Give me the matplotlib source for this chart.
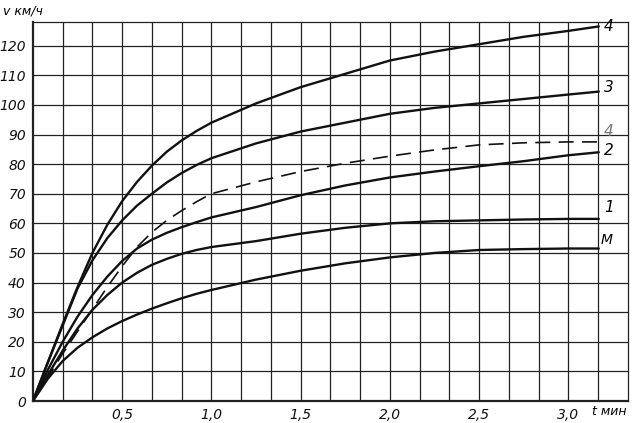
import numpy as np
import matplotlib.pyplot as plt

# time, minutes (read every 5 s up to 1 min, then every 15 s)
t = [0, 1/12, 2/12, 3/12, 4/12, 5/12, 6/12, 7/12, 8/12, 9/12, 10/12, 11/12, 1.0,
     1.25, 1.5, 1.75, 2.0, 2.25, 2.5, 2.75, 3.0, 3.17]

v_4 = [0, 13, 26, 38.5, 50, 59.5, 67.5, 74, 79.5, 84.2, 88, 91.2, 94,
       100.5, 106, 110.5, 115, 118, 120.5, 123, 125, 126.5]
v_3 = [0, 13, 25.5, 38, 47.5, 55, 61, 66, 70, 73.8, 77, 79.7, 82,
       87, 91, 94, 97, 99, 100.5, 102, 103.5, 104.5]
v_4_dash = [0, 8, 16, 23.5, 31, 38.5, 45.5, 52, 57, 61, 64.3, 67.3, 70,
            74, 77.5, 80.3, 82.7, 84.8, 86.5, 87.2, 87.5, 87.5]
v_2 = [0, 10.5, 20, 28.5, 35.8, 42, 47.3, 51.5, 54.5, 56.8, 58.7, 60.4, 62,
       65.5, 69.5, 72.8, 75.5, 77.5, 79.3, 81, 83, 84]
v_1 = [0, 8.8, 17, 24.5, 30.8, 35.8, 40, 43.3, 46, 48, 49.7, 51, 52,
       54, 56.5, 58.5, 60, 60.7, 61, 61.3, 61.5, 61.5]
v_m = [0, 7.5, 13.5, 18, 21.5, 24.5, 27, 29.2, 31.2, 33, 34.7, 36.2, 37.5,
       41, 44, 46.5, 48.5, 50, 51, 51.3, 51.5, 51.5]

x_ticks = [0.5, 1.0, 1.5, 2.0, 2.5, 3.0]
x_labels = ["0,5", "1,0", "1,5", "2,0", "2,5", "3,0"]
y_ticks = list(range(0, 130, 10))

fig = plt.figure(figsize=(6.33, 4.23), dpi=100)
ax = fig.add_axes([0.052, 0.052, 0.940, 0.896])

ax.set_xlim(0, 10/3)
ax.set_ylim(0, 128)

# square grid: 10 s by 10 km/h
for gx in np.arange(1, 20) / 6:
    ax.axvline(gx, color="#222222", lw=0.9, zorder=1)
for gy in y_ticks[1:]:
    ax.axhline(gy, color="#222222", lw=0.9, zorder=1)
for s in ax.spines.values():
    s.set_color("#222222")
    s.set_linewidth(0.9)
ax.spines["left"].set_linewidth(1.6)
ax.spines["bottom"].set_linewidth(1.6)

kw = dict(color="#111111", lw=1.7, solid_joinstyle="round", solid_capstyle="round", zorder=3)
ax.plot(t, v_4, **kw)
ax.plot(t, v_3, **kw)
ax.plot(t, v_2, **kw)
ax.plot(t, v_1, **kw)
ax.plot(t, v_m, **kw)
ax.plot(t, v_4_dash, color="#111111", lw=1.2, dashes=(9, 5), zorder=3)

ax.set_xticks(x_ticks)
ax.set_xticklabels(x_labels)
ax.set_yticks(y_ticks)
ax.set_yticklabels([str(y) for y in y_ticks])
ax.tick_params(length=0, pad=5, labelsize=10)
for lab in ax.get_xticklabels() + ax.get_yticklabels():
    lab.set_fontstyle("italic")
    lab.set_color("#111111")

# curve labels at the right ends
tend = t[-1] + 0.03
ax.text(tend, v_4[-1], "4", fontsize=11, style="italic", va="center")
ax.text(tend, v_3[-1] + 1.5, "3", fontsize=11, style="italic", va="center")
ax.text(tend, v_4_dash[-1] + 3.5, "4", fontsize=11, style="italic", va="center", color="#777777")
ax.text(tend, v_2[-1] + 0.5, "2", fontsize=11, style="italic", va="center")
ax.text(tend, v_1[-1] + 4, "1", fontsize=11, style="italic", va="center")
ax.text(tend - 0.02, v_m[-1] + 3, "M", fontsize=10, style="italic", va="center")

fig.text(0.005, 0.975, "v км/ч", fontsize=9, style="italic", va="center")
fig.text(0.935, 0.028, "t мин", fontsize=9, style="italic", va="center")

fig.savefig("out.png", dpi=100)
